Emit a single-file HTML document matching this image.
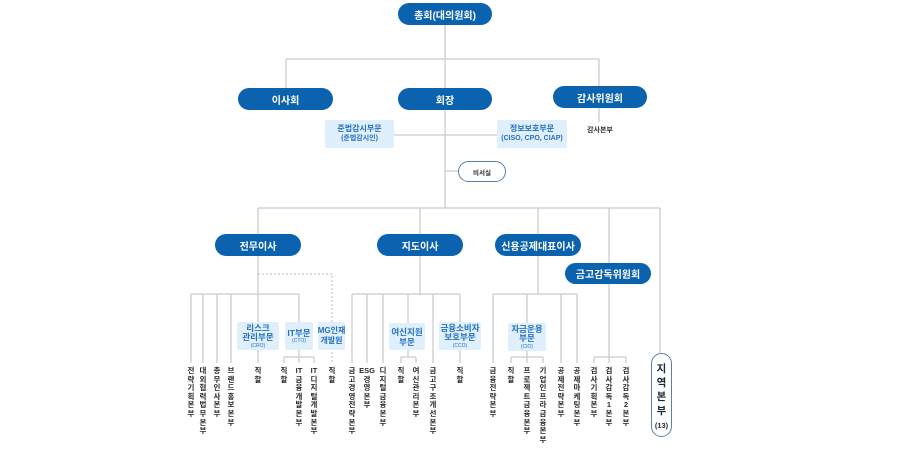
<!DOCTYPE html>
<html><head><meta charset="utf-8">
<style>
html,body{margin:0;padding:0;background:#fff;}
#c{position:relative;width:900px;height:450px;overflow:hidden;font-family:"Liberation Sans","Noto Sans CJK KR",sans-serif;}
svg{position:absolute;left:0;top:0;}
.p{position:absolute;background:#0b63af;color:#fff;border-radius:12px;font-weight:bold;font-size:10px;display:flex;align-items:center;justify-content:center;white-space:nowrap;}
.lb{position:absolute;background:#dff0fc;color:#2470c0;border-radius:2px;font-weight:bold;text-align:center;display:flex;flex-direction:column;align-items:center;justify-content:center;white-space:nowrap;}
.lb .s{font-size:5px;font-weight:normal;line-height:6px;}
.v{position:absolute;top:367px;width:16px;margin-left:-8px;text-align:center;font-size:7.5px;line-height:8.6px;color:#2a2a2a;font-weight:bold;}
.o{position:absolute;background:#fff;border:1.3px solid #5d7fa6;box-sizing:border-box;}
</style></head><body><div id="c">
<svg width="900" height="450" viewBox="0 0 900 450">
<g stroke="#c8ccd4" stroke-width="1.3" fill="none">
<path d="M445 25V88M445 110V208M286 59H599M286 59V88M599 59V86M599 108V122M394 135H497M445 171H458"/>
<path d="M258 208H660M258 208V234M420 208V234M538 208V234M609 208V263M660 208V353"/>
<path d="M258 256V322M258 350V363M191 294H299M191 294V363M203 294V363M217 294V363M231 294V363M299 294V322M299 350V357M284 357H314M284 357V363M299 357V363M314 357V363"/>
<path d="M420 256V294M352 294H460M352 294V363M367 294V363M383 294V363M433 294V363M408 294V323M460 294V322M460 350V363M408 350V357M401 357H416M401 357V363M416 357V363"/>
<path d="M538 256V294M493 294H577M493 294V363M561 294V363M577 294V363M527 294V323M527 351V357M511 357H543M511 357V363M527 357V363M543 357V363"/>
<path d="M609 284V357M594 357H626M594 357V363M609 357V363M626 357V363"/>
</g>
<path d="M258 274H332V363" stroke="#b8bcc4" stroke-width="1" stroke-dasharray="2,2" fill="none"/>
</svg>

<div class="p" style="left:398px;top:3px;width:94px;height:22px;">총회(대의원회)</div>
<div class="p" style="left:238px;top:88px;width:95px;height:22px;">이사회</div>
<div class="p" style="left:398px;top:88px;width:94px;height:22px;">회장</div>
<div class="p" style="left:553px;top:86px;width:94px;height:22px;">감사위원회</div>
<div style="position:absolute;left:580px;top:125px;width:40px;text-align:center;font-size:7px;color:#333;font-weight:bold;">감사본부</div>

<div class="lb" style="left:325px;top:120px;width:69px;height:28px;font-size:8px;line-height:10px;">준법감시부문<span style="font-size:7px;">(준법감시인)</span></div>
<div class="lb" style="left:497px;top:120px;width:70px;height:28px;font-size:8px;line-height:10px;">정보보호부문<span style="font-size:7px;">(CISO, CPO, CIAP)</span></div>

<div class="o" style="left:458px;top:161px;width:48px;height:21px;border-radius:11px;font-size:6.5px;color:#333;display:flex;align-items:center;justify-content:center;font-weight:bold;">비서실</div>

<div class="p" style="left:215px;top:234px;width:86px;height:22px;">전무이사</div>
<div class="p" style="left:377px;top:234px;width:86px;height:22px;">지도이사</div>
<div class="p" style="left:495px;top:234px;width:86px;height:22px;">신용공제대표이사</div>
<div class="p" style="left:565px;top:263px;width:86px;height:21px;">금고감독위원회</div>

<div class="lb" style="left:237px;top:322px;width:42px;height:28px;font-size:8.5px;line-height:9.5px;">리스크<span>관리부문</span><span class="s">(CRO)</span></div>
<div class="lb" style="left:285px;top:322px;width:28px;height:28px;font-size:8.5px;line-height:10px;">IT부문<span class="s">(CTO)</span></div>
<div class="lb" style="left:318px;top:322px;width:27px;height:28px;font-size:8px;line-height:10px;">MG인재<span>개발원</span></div>
<div class="lb" style="left:389px;top:323px;width:36px;height:27px;font-size:8.5px;line-height:10px;">여신지원<span>부문</span></div>
<div class="lb" style="left:439px;top:322px;width:42px;height:28px;font-size:8.5px;line-height:9.5px;">금융소비자<span>보호부문</span><span class="s">(CCO)</span></div>
<div class="lb" style="left:508px;top:323px;width:38px;height:28px;font-size:8.5px;line-height:9.5px;">자금운용<span>부문</span><span class="s">(CIO)</span></div>

<div class="v" style="left:191px;">전<br>략<br>기<br>획<br>본<br>부</div>
<div class="v" style="left:203px;">대<br>외<br>협<br>력<br>법<br>무<br>본<br>부</div>
<div class="v" style="left:217px;">총<br>무<br>인<br>사<br>본<br>부</div>
<div class="v" style="left:231px;">브<br>랜<br>드<br>홍<br>보<br>본<br>부</div>
<div class="v" style="left:258px;">직<br>할</div>
<div class="v" style="left:284px;">직<br>할</div>
<div class="v" style="left:299px;">IT<br>금<br>융<br>개<br>발<br>본<br>부</div>
<div class="v" style="left:314px;">IT<br>디<br>지<br>털<br>개<br>발<br>본<br>부</div>
<div class="v" style="left:332px;">직<br>할</div>

<div class="v" style="left:352px;">금<br>고<br>경<br>영<br>전<br>략<br>본<br>부</div>
<div class="v" style="left:367px;">ESG<br>경<br>영<br>본<br>부</div>
<div class="v" style="left:383px;">디<br>지<br>털<br>금<br>융<br>본<br>부</div>
<div class="v" style="left:401px;">직<br>할</div>
<div class="v" style="left:416px;">여<br>신<br>관<br>리<br>본<br>부</div>
<div class="v" style="left:433px;">금<br>고<br>구<br>조<br>개<br>선<br>본<br>부</div>
<div class="v" style="left:460px;">직<br>할</div>

<div class="v" style="left:493px;">금<br>융<br>전<br>략<br>본<br>부</div>
<div class="v" style="left:511px;">직<br>할</div>
<div class="v" style="left:527px;">프<br>로<br>젝<br>트<br>금<br>융<br>본<br>부</div>
<div class="v" style="left:543px;">기<br>업<br>인<br>프<br>라<br>금<br>융<br>본<br>부</div>
<div class="v" style="left:561px;">공<br>제<br>전<br>략<br>본<br>부</div>
<div class="v" style="left:577px;">공<br>제<br>마<br>케<br>팅<br>본<br>부</div>

<div class="v" style="left:594px;">검<br>사<br>기<br>획<br>본<br>부</div>
<div class="v" style="left:609px;">검<br>사<br>감<br>독<br>1<br>본<br>부</div>
<div class="v" style="left:626px;">검<br>사<br>감<br>독<br>2<br>본<br>부</div>

<div class="o" style="left:651px;top:353px;width:21px;height:84px;border-radius:11px;"></div>
<div style="position:absolute;left:651px;top:362px;width:21px;text-align:center;font-weight:bold;color:#1d2a3a;font-size:10.5px;line-height:14px;">지<br>역<br>본<br>부<br><span style="font-size:7.5px;line-height:10px;">(13)</span></div>
</div></body></html>
